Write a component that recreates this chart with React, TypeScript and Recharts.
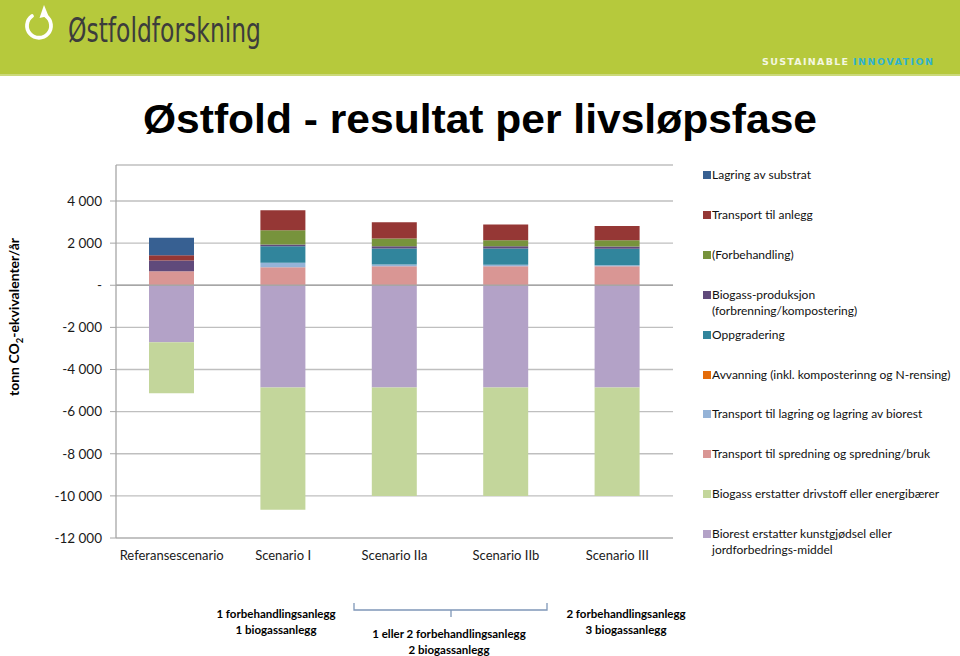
import React from "react";
import { BarChart, Bar, XAxis, YAxis, CartesianGrid, ReferenceLine } from "recharts";

const categories = ["Referansescenario", "Scenario I", "Scenario IIa", "Scenario IIb", "Scenario III"];

// Excel series order (bottom of stack first); legend shows them reversed
const biorest = [-2700, -4850, -4850, -4850, -4850];
const biogassErstatter = [-2430, -5810, -5150, -5150, -5150];
const transportSpredning = [665, 855, 905, 905, 905];
const transportLagring = [0, 210, 80, 65, 50];
const avvanning = [0, 0, 0, 0, 0];
const oppgradering = [0, 790, 760, 775, 775];
const biogassProduksjon = [505, 80, 110, 110, 110];
const forbehandling = [0, 680, 365, 285, 300];
const transportAnlegg = [255, 950, 775, 750, 670];
const lagringSubstrat = [825, 0, 0, 0, 0];

const yTicks = [-12000, -10000, -8000, -6000, -4000, -2000, 0, 2000, 4000];

const series = [
  { key: "biorest", name: ["Biorest erstatter kunstgjødsel eller", "jordforbedrings-middel"], color: "#B3A2C7", values: biorest },
  { key: "biogassErstatter", name: ["Biogass erstatter drivstoff eller energibærer"], color: "#C3D69B", values: biogassErstatter },
  { key: "transportSpredning", name: ["Transport til spredning og spredning/bruk"], color: "#D99694", values: transportSpredning },
  { key: "transportLagring", name: ["Transport til lagring og lagring av biorest"], color: "#95B3D7", values: transportLagring },
  { key: "avvanning", name: ["Avvanning (inkl. komposterinng og N-rensing)"], color: "#E46C0A", values: avvanning },
  { key: "oppgradering", name: ["Oppgradering"], color: "#31859C", values: oppgradering },
  { key: "biogassProduksjon", name: ["Biogass-produksjon", "(forbrenning/kompostering)"], color: "#604A7B", values: biogassProduksjon },
  { key: "forbehandling", name: ["(Forbehandling)"], color: "#77933C", values: forbehandling },
  { key: "transportAnlegg", name: ["Transport til anlegg"], color: "#953735", values: transportAnlegg },
  { key: "lagringSubstrat", name: ["Lagring av substrat"], color: "#376092", values: lagringSubstrat },
];

const data = categories.map((c, i) => {
  const row: Record<string, any> = { name: c };
  series.forEach((s) => (row[s.key] = s.values[i]));
  return row;
});

const fmt = (v: number) => {
  if (v === 0) return "-";
  const s = Math.abs(v).toString().replace(/\B(?=(\d{3})+(?!\d))/g, " ");
  return (v < 0 ? "-" : "") + s;
};

const FONT = "Lato, 'Open Sans', sans-serif";

export default function App() {
  const legendItems = [...series].reverse();
  return (
    <div style={{ position: "absolute", left: 0, top: 0, width: 960, height: 656, background: "#fff", overflow: "hidden" }}>
      <div style={{ position: "absolute", left: 0, top: 0 }}>
        <BarChart
          width={960}
          height={656}
          data={data}
          margin={{ top: 165, right: 287, bottom: 88, left: 56 }}
          stackOffset="sign"
          barSize={45}
        >
          <CartesianGrid vertical={false} stroke="#bfbfbf" strokeWidth={1.3} />
          <XAxis
            dataKey="name"
            axisLine={{ stroke: "#bfbfbf", strokeWidth: 1.3 }}
            tickLine={false}
            height={30}
            tick={{ fill: "#1a1a1a", fontSize: 13, fontFamily: FONT, dy: 5 }}
            interval={0}
          />
          <YAxis
            width={60}
            domain={[-12000, 5710]}
            ticks={yTicks}
            allowDataOverflow
            tickFormatter={fmt}
            axisLine={{ stroke: "#a6a6a6", strokeWidth: 1.3 }}
            tickLine={{ stroke: "#a6a6a6" }}
            tickSize={6}
            tickMargin={8}
            tick={{ fill: "#1a1a1a", fontSize: 13.5, fontFamily: FONT }}
          />
          <ReferenceLine y={0} stroke="#a6a6a6" strokeWidth={1.3} />
          {series.map((s) => (
            <Bar key={s.key} dataKey={s.key} stackId="a" fill={s.color} isAnimationActive={false} />
          ))}
        </BarChart>
      </div>

      <svg width={960} height={656} style={{ position: "absolute", left: 0, top: 0, pointerEvents: "none" }}>
        {/* banner */}
        <rect x={0} y={0} width={960} height={75} fill="#b6c93c" />
        <rect x={0} y={74} width={960} height={2} fill="#cbd97a" />
        {/* logo icon */}
        <path d="M 46 16 A 12 12 0 1 1 32 16" fill="none" stroke="#ffffff" strokeWidth={3.8} strokeLinecap="round" />
        <path d="M 39.5 18 L 44 5 L 48.5 16 Z" fill="#ffffff" />
        <text x={68} y={42} fontFamily="'DejaVu Sans', sans-serif" fontSize={33} fill="#3c3c3c" textLength={193} lengthAdjust="spacingAndGlyphs">
          Østfoldforskning
        </text>
        <text x={762} y={65} fontFamily="'DejaVu Sans', sans-serif" fontWeight="bold" fontSize={9.5} fill="#f4f7e0" textLength={86} lengthAdjust="spacing">
          SUSTAINABLE
        </text>
        <text x={853} y={65} fontFamily="'DejaVu Sans', sans-serif" fontWeight="bold" fontSize={9.5} fill="#2fb2cf" textLength={80} lengthAdjust="spacing">
          INNOVATION
        </text>

        {/* title */}
        <text x={143} y={133} fontFamily="'Liberation Sans', Arial, sans-serif" fontWeight="bold" fontSize={41} fill="#000" textLength={674} lengthAdjust="spacingAndGlyphs">
          Østfold - resultat per livsløpsfase
        </text>

        {/* y axis title */}
        <text transform="translate(19,317) rotate(-90)" textAnchor="middle" fontFamily={FONT} fontWeight="bold" fontSize={14} fill="#000">
          <tspan>tonn CO</tspan>
          <tspan fontSize={9.5} dy={4}>2</tspan>
          <tspan dy={-4}>-ekvivalenter/år</tspan>
        </text>

        {/* annotations */}
        <g fontFamily={FONT} fontWeight="bold" fontSize={11.5} fill="#000" textAnchor="middle">
          <text x={276} y={618}>1 forbehandlingsanlegg</text>
          <text x={276} y={634}>1 biogassanlegg</text>
          <text x={449} y={638}>1 eller 2 forbehandlingsanlegg</text>
          <text x={449} y={654}>2 biogassanlegg</text>
          <text x={626} y={618}>2 forbehandlingsanlegg</text>
          <text x={626} y={634}>3 biogassanlegg</text>
        </g>
        <path d="M 354 603 L 354 610 L 547 610 L 547 603 M 451 610 L 451 617" fill="none" stroke="#7f97b8" strokeWidth={1.3} />
      </svg>

      {/* legend */}
      <div style={{ position: "absolute", left: 0, top: 0, fontFamily: FONT, fontSize: 12, color: "#111" }}>
        {legendItems.map((s, i) => (
          <div key={s.key} style={{ position: "absolute", left: 703, top: 167 + i * 39.9, whiteSpace: "nowrap", lineHeight: "16px" }}>
            <span style={{ position: "absolute", left: 0, top: 4, width: 8, height: 8, background: s.color }} />
            <div style={{ position: "absolute", left: 9, top: 0 }}>
              {s.name.map((n, j) => (
                <div key={j}>{n}</div>
              ))}
            </div>
          </div>
        ))}
      </div>
    </div>
  );
}
